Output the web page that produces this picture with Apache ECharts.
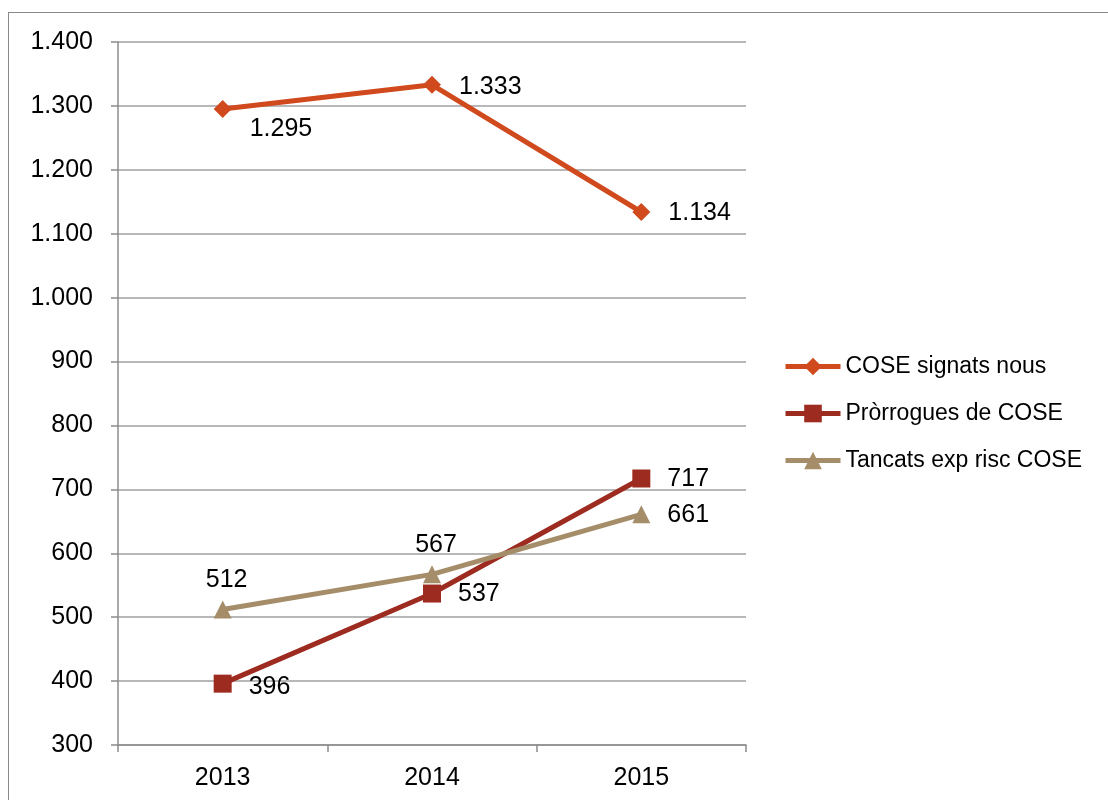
<!DOCTYPE html>
<html>
<head>
<meta charset="utf-8">
<script src="https://cdn.jsdelivr.net/npm/echarts@6/dist/echarts.min.js"></script>
<style>
html,body{margin:0;padding:0;background:#fff;overflow:hidden;}
#wrap{position:relative;width:1108px;height:800px;}
#frame{position:absolute;left:8px;top:12px;width:1200px;height:1000px;border:1.5px solid #8a8a8a;box-sizing:border-box;}
#chart{position:absolute;left:0;top:0;width:1108px;height:800px;}
</style>
</head>
<body>
<div id="wrap"><div id="frame"></div><div id="chart"></div></div>
<script>
const years = ['2013', '2014', '2015'];
const coseSignatsNous = [1295, 1333, 1134];
const prorroguesCose = [396, 537, 717];
const tancatsExpRisc = [512, 567, 661];
const seriesNames = ['COSE signats nous', 'Pròrrogues de COSE', 'Tancats exp risc COSE'];

const FONT = '"Liberation Sans", Arial, sans-serif';
const fmt = v => String(v).replace(/\B(?=(\d{3})+(?!\d))/g, '.');

const labelBase = {show: true, color: '#000', fontSize: 25, fontFamily: FONT, formatter: p => fmt(p.value)};

function withLabels(values, specs) {
  return values.map((v, i) => ({value: v, label: Object.assign({}, labelBase, specs[i])}));
}

const chart = echarts.init(document.getElementById('chart'));
chart.setOption({
  animation: false,
  grid: {left: 118, right: 362, top: 42, bottom: 55},
  legend: {
    orient: 'vertical', left: 778, top: 350,
    itemWidth: 55, itemHeight: 22, itemGap: 24,
    lineStyle: {width: 5},
    textStyle: {fontSize: 23, fontFamily: FONT, color: '#000'},
    data: seriesNames
  },
  xAxis: {
    type: 'category', data: years, boundaryGap: true,
    axisLine: {lineStyle: {color: '#8c8c8c', width: 1.5}},
    axisTick: {show: true, length: 7, alignWithLabel: false, lineStyle: {color: '#8c8c8c', width: 1.5}},
    axisLabel: {fontSize: 25, fontFamily: FONT, color: '#000', margin: 21}
  },
  yAxis: {
    type: 'value', min: 300, max: 1400, interval: 100,
    axisLine: {show: true, lineStyle: {color: '#8c8c8c', width: 1.5}},
    axisTick: {show: true, length: 7, lineStyle: {color: '#8c8c8c', width: 1.5}},
    splitLine: {lineStyle: {color: '#a0a0a0', width: 1.5}},
    axisLabel: {fontSize: 25, fontFamily: FONT, color: '#000', margin: 25, formatter: fmt}
  },
  series: [
    {
      name: seriesNames[0], type: 'line',
      color: '#D04A1E', symbol: 'diamond', symbolSize: 18,
      lineStyle: {width: 5},
      data: withLabels(coseSignatsNous, [
        {position: 'right', distance: 18, offset: [0, 20]},
        {position: 'right', distance: 18, offset: [0, 2]},
        {position: 'right', distance: 18, offset: [0, 1]}
      ])
    },
    {
      name: seriesNames[1], type: 'line',
      color: '#9E2B1F', symbol: 'rect', symbolSize: 18,
      lineStyle: {width: 5},
      data: withLabels(prorroguesCose, [
        {position: 'right', distance: 17, offset: [0, 3]},
        {position: 'right', distance: 17, offset: [0, 1]},
        {position: 'right', distance: 17, offset: [0, 1]}
      ])
    },
    {
      name: seriesNames[2], type: 'line',
      color: '#A68D6A', symbol: 'triangle', symbolSize: 18,
      lineStyle: {width: 5},
      data: withLabels(tancatsExpRisc, [
        {position: 'top', distance: 8, offset: [4, 0]},
        {position: 'top', distance: 8, offset: [4, 0]},
        {position: 'right', distance: 17, offset: [0, 1]}
      ])
    }
  ]
});
</script>
</body>
</html>
